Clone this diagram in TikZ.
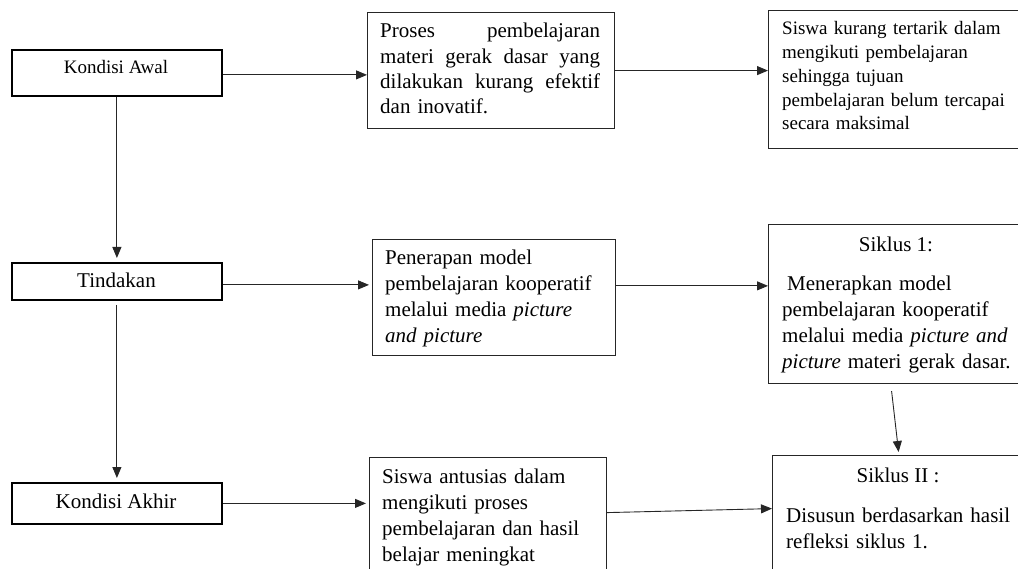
\documentclass[tikz,border=0pt]{standalone}
\usepackage{fontspec}
\setmainfont{Liberation Serif}
\usetikzlibrary{arrows.meta,calc}
\tikzset{
  lbox/.style={draw=black, line width=1.8pt, inner sep=0pt, anchor=north west},
  rbox/.style={draw=black!85, line width=1.2pt, inner sep=0pt, anchor=north west},
  lbl/.style={inner sep=0pt, anchor=base},
  para/.style={inner sep=0pt, anchor=base west, align=left},
  conn/.style={draw=black!85, line width=0.9pt, -{Triangle[length=11pt,width=9pt]}},
  fbig/.style={font=\fontsize{21}{26}\selectfont},
  fsmall/.style={font=\fontsize{19}{23.75}\selectfont},
}
\begin{document}
\begin{tikzpicture}[x=1pt,y=-1pt]
\useasboundingbox (0,0) rectangle (1018,569);
\clip (0,0) rectangle (1018,569);
% boxes
\node[lbox, minimum width=210pt, minimum height=46pt] (kawal) at (11,49) {};
\node[lbox, minimum width=210pt, minimum height=37pt] (tind) at (11,262) {};
\node[lbox, minimum width=210pt, minimum height=41pt] (kakhir) at (11,482) {};
\node[rbox, minimum width=247pt, minimum height=116pt] (proses) at (367,12) {};
\node[rbox, minimum width=254pt, minimum height=138pt] (b3) at (768,10) {};
\node[rbox, minimum width=243pt, minimum height=116pt] (pen) at (372,239) {};
\node[rbox, minimum width=254pt, minimum height=159pt] (s1) at (768,224) {};
\node[rbox, minimum width=237pt, minimum height=123pt] (sa) at (369,457) {};
\node[rbox, minimum width=250pt, minimum height=125pt] (s2) at (772,455) {};
% texts
\node[lbl, fsmall] (tkawal) at (116,74) {Kondisi Awal};
\node[lbl, fbig] (ttind) at (116.5,288) {Tindakan};
\node[lbl, fbig] (tkakhir) at (116,508) {Kondisi Akhir};
\node[para, text width=220pt, font=\fontsize{21}{25.3}\selectfont] (tproses) at (380,38)
  {Proses\hfill pembelajaran\\ materi\hfill gerak\hfill dasar\hfill yang\\ dilakukan\hfill kurang\hfill efektif\\ dan inovatif.};
\node[para, text width=235pt, fsmall] (tb3) at (782,35)
  {Siswa kurang tertarik dalam\\ mengikuti pembelajaran\\ sehingga tujuan\\ pembelajaran belum tercapai\\ secara maksimal};
\node[para, text width=225pt, fbig] (tpen) at (385,265)
  {Penerapan model\\ pembelajaran kooperatif\\ melalui media \textit{picture}\\ \textit{and picture}};
\node[lbl, fbig] (ts1a) at (896,252) {Siklus 1:};
\node[para, text width=235pt, fbig] (ts1b) at (782,291)
  {\hspace*{5pt}Menerapkan model\\ pembelajaran kooperatif\\ melalui media \textit{picture and}\\ \textit{picture} materi gerak dasar.};
\node[para, text width=225pt, fbig] (tsa) at (382,483)
  {Siswa antusias dalam\\ mengikuti proses\\ pembelajaran dan hasil\\ belajar meningkat};
\node[lbl, fbig] (ts2a) at (898,482) {Siklus II :};
\node[para, text width=230pt, fbig] (ts2b) at (786,522)
  {Disusun berdasarkan hasil\\ refleksi siklus 1.};
% connectors
\coordinate (penout) at ($(pen.north east)!0.4!(pen.south east)$);
\draw[conn] ([yshift=-2pt]kawal.east) -- ([yshift=-2pt]kawal.east -| proses.west);
\draw[conn] (proses.east) -- (proses.east -| b3.west);
\draw[conn, shorten >=4pt] (kawal.south) -- (tind.north);
\draw[conn, shorten >=3pt] ([yshift=-3.5pt]tind.east) -- ([yshift=-3.5pt]tind.east -| pen.west);
\draw[conn] (penout) -- (penout -| s1.west);
\draw[conn, shorten <=4pt, shorten >=4pt] (tind.south) -- (kakhir.north);
\draw[conn, shorten >=3pt] (kakhir.east) -- (kakhir.east -| sa.west);
\draw[conn] ([yshift=6.5pt]sa.east) -- ([yshift=9.5pt]s2.west);
\draw[conn] ([xshift=-4pt,yshift=-7pt]s1.south) -- ([xshift=1pt,yshift=3pt]s2.north);
\end{tikzpicture}
\end{document}
